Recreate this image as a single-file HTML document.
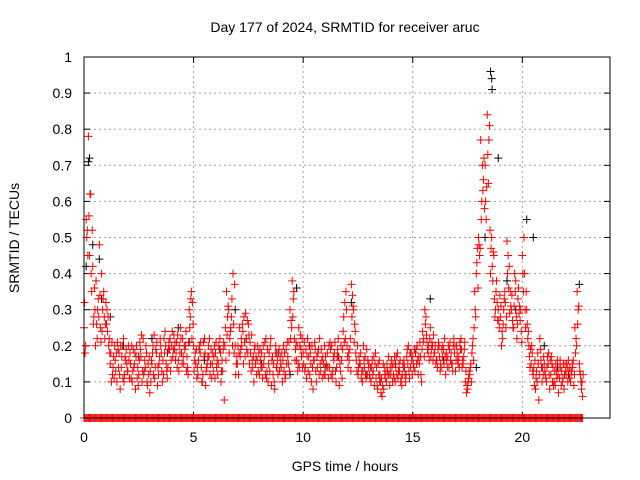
<!DOCTYPE html>
<html><head><meta charset="utf-8"><style>
html,body{margin:0;padding:0;background:#fff;}
svg{display:block;font-family:"Liberation Sans",sans-serif;}
</style></head><body>
<svg id="chart" width="640" height="480" xmlns="http://www.w3.org/2000/svg">
<text x="345" y="32" font-size="14" text-anchor="middle">Day 177 of 2024, SRMTID for receiver aruc</text>
<text x="345" y="471" font-size="14" text-anchor="middle">GPS time / hours</text>
<text transform="translate(19,238) rotate(-90)" font-size="14" text-anchor="middle">SRMTID / TECUs</text>
<g id="grid"></g><g id="ticks"></g><g id="black"></g><g id="red"></g>
<rect x="84" y="57" width="526" height="361" fill="none" stroke="#000" stroke-width="1"/>
</svg>
<script>
const xTicks=[0,5,10,15,20];
const yTicks=[0,0.1,0.2,0.3,0.4,0.5,0.6,0.7,0.8,0.9,1];
const yTickLabels=["0","0.1","0.2","0.3","0.4","0.5","0.6","0.7","0.8","0.9","1"];
const redStep=0.1;
const redA=[0.25,0.55,0.78,0.62,0.42,0.30,0.22,0.48,0.40,0.35,
0.32,0.28,0.15,0.12,0.20,0.10,0.18,0.14,0.22,0.16,
0.13,0.18,0.10,0.15,0.20,0.12,0.17,0.22,0.14,0.09,
0.07,0.15,0.23,0.18,0.12,0.20,0.16,0.24,0.11,0.19,
0.20,0.23,0.18,0.16,0.25,0.22,0.19,0.17,0.30,0.35,
0.20,0.15,0.12,0.18,0.10,0.22,0.14,0.17,0.19,0.13,
0.18,0.12,0.22,0.16,0.05,0.35,0.30,0.25,0.40,0.20,
0.15,0.25,0.20,0.28,0.22,0.26,0.18,0.14,0.20,0.16,
0.12,0.18,0.15,0.22,0.10,0.20,0.17,0.08,0.14,0.19,
0.14,0.20,0.12,0.17,0.30,0.38,0.22,0.16,0.25,0.19,
0.18,0.14,0.22,0.12,0.20,0.16,0.10,0.19,0.13,0.17,
0.12,0.18,0.14,0.20,0.16,0.10,0.22,0.13,0.19,0.32,
0.20,0.16,0.37,0.30,0.18,0.12,0.15,0.10,0.14,0.19,
0.15,0.10,0.13,0.18,0.08,0.12,0.06,0.14,0.10,0.17,
0.12,0.15,0.10,0.18,0.13,0.09,0.16,0.12,0.20,0.14,
0.17,0.13,0.20,0.15,0.10,0.22,0.28,0.18,0.25,0.20,
0.18,0.16,0.20,0.14,0.19,0.12,0.17,0.21,0.15,0.18,
0.20,0.17,0.22,0.15,0.10,0.08,0.12,0.18,0.25,0.40,
0.50,0.77,0.63,0.70,0.84,0.81,0.50,0.45,0.35,0.30,
0.28,0.22,0.35,0.49,0.42,0.30,0.25,0.38,0.33,0.27,
0.45,0.40,0.30,0.20,0.15,0.12,0.08,0.18,0.22,0.10,
0.15,0.10,0.18,0.12,0.14,0.09,0.16,0.11,0.13,0.08,
0.12,0.16,0.10,0.14,0.25,0.35,0.15,0.08];
const redB=[0.18,0.52,0.45,0.35,0.28,0.38,0.33,0.25,0.30,0.22,
0.30,0.22,0.10,0.17,0.13,0.19,0.08,0.20,0.12,0.15,
0.16,0.11,0.19,0.08,0.14,0.21,0.10,0.13,0.18,0.12,
0.10,0.20,0.14,0.09,0.17,0.13,0.22,0.15,0.19,0.13,
0.17,0.21,0.14,0.20,0.18,0.15,0.24,0.12,0.28,0.32,
0.16,0.11,0.19,0.14,0.21,0.09,0.17,0.12,0.15,0.20,
0.14,0.20,0.10,0.19,0.25,0.28,0.22,0.33,0.18,0.15,
0.12,0.19,0.24,0.17,0.27,0.15,0.23,0.10,0.17,0.13,
0.16,0.11,0.21,0.13,0.18,0.09,0.15,0.20,0.12,0.17,
0.10,0.18,0.15,0.21,0.27,0.33,0.19,0.13,0.20,0.22,
0.21,0.11,0.17,0.15,0.08,0.19,0.14,0.22,0.16,0.12,
0.15,0.11,0.19,0.13,0.21,0.17,0.09,0.16,0.28,0.35,
0.14,0.22,0.34,0.26,0.13,0.17,0.11,0.20,0.12,0.16,
0.11,0.16,0.09,0.14,0.12,0.07,0.15,0.11,0.13,0.09,
0.14,0.11,0.17,0.13,0.10,0.15,0.12,0.19,0.11,0.16,
0.14,0.19,0.12,0.17,0.24,0.30,0.21,0.16,0.19,0.23,
0.15,0.19,0.13,0.17,0.22,0.16,0.14,0.18,0.20,0.13,
0.16,0.21,0.14,0.19,0.07,0.11,0.15,0.22,0.30,0.47,
0.45,0.60,0.72,0.55,0.65,0.40,0.38,0.28,0.32,0.25,
0.20,0.30,0.25,0.45,0.35,0.27,0.40,0.22,0.29,0.24,
0.35,0.25,0.22,0.14,0.18,0.09,0.13,0.05,0.16,0.12,
0.12,0.17,0.08,0.15,0.10,0.13,0.07,0.14,0.11,0.15,
0.14,0.11,0.13,0.09,0.22,0.30,0.12,0.06];
const redC=[0.32,0.50,0.56,0.40,0.26,0.20,0.30,0.34,0.24,0.28,
0.26,0.20,0.18,0.14,0.16,0.21,0.12,0.17,0.10,0.19,
0.20,0.15,0.13,0.18,0.11,0.16,0.23,0.12,0.20,0.15,
0.13,0.18,0.11,0.21,0.15,0.18,0.12,0.20,0.14,0.22,
0.24,0.19,0.21,0.13,0.22,0.17,0.20,0.14,0.25,0.22,
0.13,0.19,0.16,0.21,0.12,0.18,0.15,0.22,0.11,0.17,
0.21,0.15,0.18,0.13,0.20,0.23,0.18,0.28,0.26,0.12,
0.20,0.17,0.26,0.21,0.19,0.23,0.13,0.17,0.15,0.20,
0.19,0.14,0.17,0.11,0.15,0.22,0.12,0.18,0.16,0.13,
0.18,0.13,0.19,0.15,0.22,0.28,0.16,0.20,0.14,0.17,
0.15,0.19,0.13,0.18,0.14,0.21,0.17,0.12,0.19,0.15,
0.17,0.14,0.21,0.11,0.18,0.14,0.17,0.20,0.24,0.22,
0.17,0.19,0.28,0.21,0.16,0.14,0.18,0.13,0.17,0.12,
0.12,0.14,0.17,0.11,0.15,0.10,0.09,0.12,0.15,0.12,
0.16,0.12,0.14,0.11,0.16,0.12,0.14,0.17,0.13,0.18,
0.15,0.18,0.16,0.21,0.19,0.17,0.23,0.20,0.17,0.16,
0.20,0.14,0.17,0.19,0.15,0.18,0.20,0.16,0.13,0.20,
0.18,0.14,0.19,0.17,0.13,0.10,0.14,0.20,0.35,0.43,
0.48,0.55,0.66,0.60,0.73,0.52,0.42,0.33,0.38,0.27,
0.31,0.26,0.32,0.40,0.29,0.34,0.31,0.28,0.36,0.30,
0.40,0.30,0.26,0.17,0.20,0.14,0.11,0.15,0.19,0.14,
0.13,0.14,0.12,0.17,0.09,0.15,0.12,0.16,0.10,0.12,
0.15,0.13,0.12,0.16,0.18,0.26,0.13,0.10];
const redD=[0.20,0.45,0.62,0.52,0.36,0.26,0.28,0.21,0.33,0.26,
0.24,0.18,0.21,0.11,0.18,0.14,0.20,0.11,0.17,0.13,
0.11,0.20,0.14,0.17,0.09,0.19,0.13,0.16,0.10,0.17,
0.16,0.12,0.19,0.14,0.22,0.10,0.18,0.13,0.21,0.16,
0.19,0.16,0.23,0.18,0.15,0.20,0.13,0.21,0.33,0.26,
0.18,0.14,0.20,0.10,0.17,0.13,0.20,0.15,0.18,0.11,
0.16,0.19,0.13,0.21,0.16,0.31,0.24,0.20,0.37,0.17,
0.18,0.22,0.15,0.29,0.18,0.21,0.16,0.19,0.12,0.18,
0.14,0.20,0.12,0.19,0.13,0.16,0.10,0.14,0.18,0.15,
0.16,0.11,0.21,0.13,0.25,0.35,0.21,0.15,0.23,0.14,
0.13,0.17,0.20,0.10,0.16,0.13,0.18,0.15,0.11,0.20,
0.14,0.20,0.12,0.17,0.13,0.19,0.15,0.11,0.21,0.30,
0.18,0.13,0.31,0.24,0.20,0.15,0.13,0.16,0.11,0.14,
0.14,0.12,0.15,0.09,0.16,0.11,0.08,0.13,0.12,0.14,
0.10,0.17,0.12,0.15,0.11,0.14,0.10,0.15,0.18,0.12,
0.19,0.15,0.17,0.12,0.21,0.26,0.19,0.22,0.21,0.18,
0.16,0.21,0.15,0.20,0.17,0.14,0.19,0.15,0.22,0.16,
0.15,0.19,0.16,0.21,0.09,0.13,0.10,0.16,0.28,0.36,
0.47,0.70,0.58,0.64,0.77,0.47,0.46,0.30,0.27,0.34,
0.24,0.33,0.28,0.36,0.31,0.25,0.35,0.26,0.31,0.21,
0.50,0.35,0.24,0.19,0.13,0.16,0.10,0.12,0.14,0.17,
0.11,0.15,0.16,0.10,0.13,0.11,0.14,0.09,0.15,0.13,
0.10,0.14,0.15,0.12,0.20,0.31,0.10,0.12];
const blackTimes=[0.1,0.2,0.25,0.4,0.7,0.8,1.2,1.8,2.5,3.1,3.8,4.3,4.8,5.5,6.2,6.9,7.4,8.1,8.8,9.4,9.7,10.3,11.0,11.6,12.2,12.9,13.5,14.2,14.9,15.8,16.4,17.2,17.9,18.3,18.55,18.6,18.62,18.9,19.3,19.7,20.2,20.5,21.0,21.6,22.1,22.6];
const blackValues=[0.42,0.71,0.72,0.48,0.44,0.33,0.28,0.20,0.17,0.22,0.18,0.25,0.21,0.16,0.19,0.30,0.22,0.15,0.18,0.12,0.36,0.20,0.14,0.17,0.32,0.12,0.10,0.15,0.18,0.33,0.16,0.19,0.14,0.50,0.96,0.94,0.91,0.72,0.38,0.30,0.55,0.50,0.20,0.14,0.12,0.37];
const ns="http://www.w3.org/2000/svg";
const X0=84,X1=610,Y0=418,Y1=57,XMAX=24;
function xs(t){return X0+t/XMAX*(X1-X0);}
function ys(v){return Y0-v*(Y0-Y1);}
function mk(tag,attrs,parent){const e=document.createElementNS(ns,tag);for(const k in attrs)e.setAttribute(k,attrs[k]);parent.appendChild(e);return e;}
const grid=document.getElementById('grid'),ticks=document.getElementById('ticks');
xTicks.forEach((t,i)=>{
  if(t>0){const g=mk('line',{x1:xs(t),x2:xs(t),y1:Y0,y2:Y1,stroke:'#a0a0a0','stroke-dasharray':'2,3'},grid);
  
  }
  mk('line',{x1:xs(t),x2:xs(t),y1:Y0,y2:Y0-6,stroke:'#000'},ticks);
  mk('line',{x1:xs(t),x2:xs(t),y1:Y1,y2:Y1+6,stroke:'#000'},ticks);
  const l=mk('text',{x:xs(t),y:Y0+24,'font-size':14,'text-anchor':'middle'},ticks);l.textContent=String(t);
  
  
});
yTicks.forEach((v,i)=>{
  if(v>0&&v<1){const g=mk('line',{x1:X0,x2:X1,y1:ys(v),y2:ys(v),stroke:'#a0a0a0','stroke-dasharray':'2,3'},grid);
  
  }
  mk('line',{x1:X0,x2:X0+6,y1:ys(v),y2:ys(v),stroke:'#000'},ticks);
  mk('line',{x1:X1,x2:X1-6,y1:ys(v),y2:ys(v),stroke:'#000'},ticks);
  const l=mk('text',{x:X0-12,y:ys(v)+5,'font-size':14,'text-anchor':'end'},ticks);l.textContent=yTickLabels[i];
  
  
});
function plus(parent,t,v,color,name){
  const x=xs(t),y=ys(v);
  const p=mk('path',{d:`M${x-4},${y}H${x+4}M${x},${y-4}V${y+4}`,stroke:color,'stroke-width':1,fill:'none'},parent);
  
  
}
const bg=document.getElementById('black'),rg=document.getElementById('red');
blackTimes.forEach((t,i)=>plus(bg,t,blackValues[i],'#000','black-point'));
redA.forEach((v,i)=>{
  plus(rg,i*redStep,v,'#f00','red-point');
  plus(rg,i*redStep+0.025,redC[i],'#f00','red-point');
  plus(rg,i*redStep+0.05,redB[i],'#f00','red-point');
  plus(rg,i*redStep+0.075,redD[i],'#f00','red-point');
  plus(rg,i*redStep,0,'#f00','red-zero-point');
  plus(rg,i*redStep+0.05,0,'#f00','red-zero-point');
});
</script>
</body></html>
